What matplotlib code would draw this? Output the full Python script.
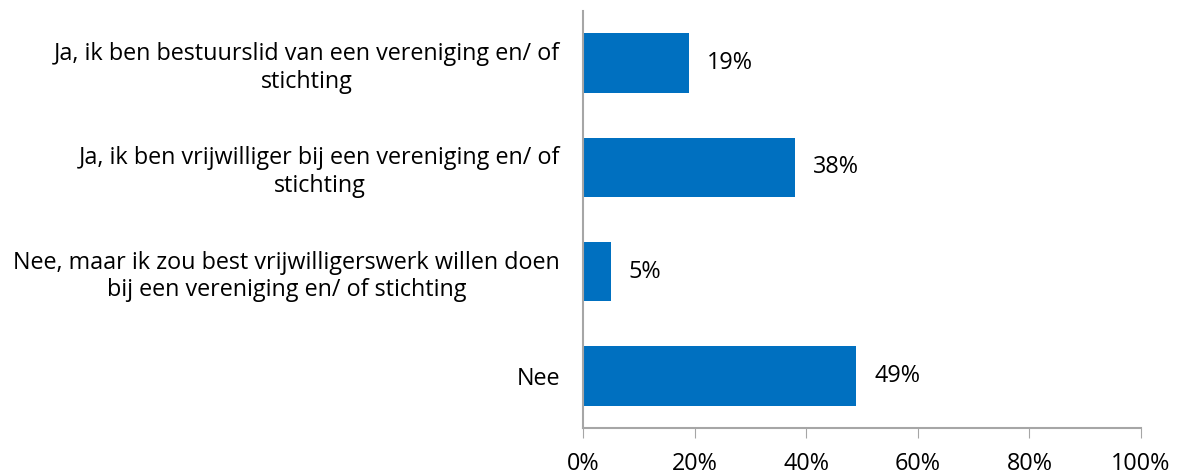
import matplotlib.pyplot as plt
from matplotlib.ticker import PercentFormatter

# Data
categories = [
    "Ja, ik ben bestuurslid van een vereniging en/ of\nstichting",
    "Ja, ik ben vrijwilliger bij een vereniging en/ of\nstichting",
    "Nee, maar ik zou best vrijwilligerswerk willen doen\nbij een vereniging en/ of stichting",
    "Nee",
]
values = [19, 38, 5, 49]
xticks = [0, 20, 40, 60, 80, 100]

plt.rcParams['font.family'] = ['Open Sans', 'DejaVu Sans']

fig = plt.figure(figsize=(11.8, 4.74), dpi=100)
ax = fig.add_axes([0.494, 0.097, 0.473, 0.88])

pos = list(range(len(categories)))
ax.barh(pos, values, height=0.57, color='#0070C0')
ax.set_ylim(len(categories) - 0.5, -0.5)
ax.set_xlim(0, 100)

# value labels next to the bars
for p, v in zip(pos, values):
    ax.text(v + 3.2, p, f"{v}%", va='center', ha='left', fontsize=16.8)

ax.set_yticks(pos)
ax.set_yticklabels(categories, fontsize=16.8)
for lab in ax.get_yticklabels():
    lab.set_multialignment('center')
    lab.set_linespacing(1.2)
ax.tick_params(axis='y', length=0, pad=16.5)

ax.set_xticks(xticks)
ax.xaxis.set_major_formatter(PercentFormatter(decimals=0))
ax.tick_params(axis='x', labelsize=16.8, length=7, color='#A6A6A6', pad=10)

for s in ['top', 'right']:
    ax.spines[s].set_visible(False)
ax.spines['left'].set_color('#A6A6A6')
ax.spines['bottom'].set_color('#A6A6A6')
ax.spines['left'].set_linewidth(1.5)
ax.spines['bottom'].set_linewidth(1.5)

fig.savefig('out.png', dpi=100)
